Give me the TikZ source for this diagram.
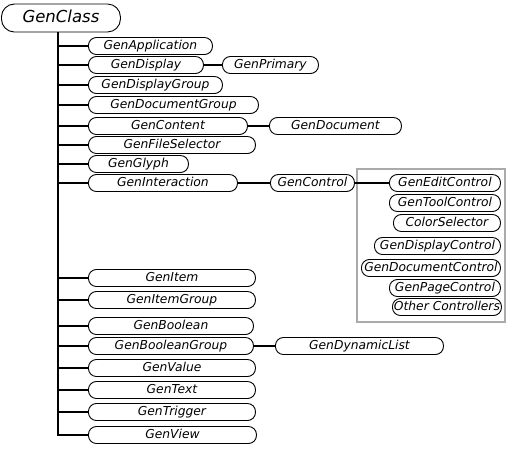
\documentclass[tikz,border=0pt]{standalone}
\usepackage{fontspec}
\setmainfont{DejaVu Sans}
\begin{document}
\begin{tikzpicture}[x=1pt,y=-1pt,
  cls/.style={draw=black,line width=0.9pt,rounded corners=8pt,fill=white,
    minimum height=17pt,inner sep=0pt,anchor=west,
    font=\fontsize{12.3}{14}\selectfont\itshape,text height=9pt,text depth=2.5pt},
  link/.style={line width=2pt,black},
  trunk/.style={line width=2.8pt,black}]
\useasboundingbox (0,0) rectangle (508,448);
\definecolor{boxgray}{HTML}{AAAAAA}
% root
\node[cls,rounded corners=13pt,minimum width=119pt,minimum height=28pt,
  font=\fontsize{16.5}{18}\selectfont\itshape,text height=12pt,text depth=3.5pt] (root) at (1,18) {GenClass};
% gray group
\draw[boxgray,line width=2.5pt] (357,169) rectangle (505,322);
% level 1
\newcommand{\cnode}[5]{\node[cls,minimum width=#4pt] (#1) at (#3,#2) {#5};}
\cnode{app}{46}{88}{124}{GenApplication}
\cnode{disp}{65}{88}{115}{GenDisplay}
\cnode{dgrp}{85}{88}{134}{GenDisplayGroup}
\cnode{docg}{105}{88}{170}{GenDocumentGroup}
\cnode{cont}{126}{88}{159}{GenContent}
\cnode{fsel}{145}{88}{167}{GenFileSelector}
\cnode{glyph}{164}{88}{100}{GenGlyph}
\cnode{inter}{183}{88}{149}{GenInteraction}
\cnode{item}{278}{88}{167}{GenItem}
\cnode{igrp}{300}{88}{167}{GenItemGroup}
\cnode{bool}{326}{88}{165}{GenBoolean}
\cnode{bgrp}{346}{88}{165}{GenBooleanGroup}
\cnode{val}{368}{88}{167}{GenValue}
\cnode{text}{390}{88}{167}{GenText}
\cnode{trig}{412}{88}{167}{GenTrigger}
\cnode{view}{435}{88}{168}{GenView}
% level 2
\cnode{prim}{65}{222}{96}{GenPrimary}
\cnode{doc}{126}{269}{132}{GenDocument}
\cnode{ctrl}{183}{270}{84}{GenControl}
\cnode{dyn}{346}{275}{168}{GenDynamicList}
% controllers
\cnode{edit}{183}{389}{111}{GenEditControl}
\cnode{tool}{203}{389}{111}{GenToolControl}
\cnode{csel}{223}{393}{107}{ColorSelector}
\cnode{dctl}{246}{374}{126}{GenDisplayControl}
\cnode{docc}{268}{361}{139}{GenDocumentControl}
\cnode{page}{288}{389}{111}{GenPageControl}
\cnode{other}{307}{392}{109}{Other Controllers}
% trunk
\coordinate (tb) at (58,435);
\draw[trunk] (root.south -| tb) -- (tb) -- ([xshift=-0.5pt]view.west);
\foreach \n in {app,disp,dgrp,docg,cont,fsel,glyph,inter,item,igrp,bool,bgrp,val,text,trig}{
  \draw[link] (\n.west -| tb) -- (\n.west);
}
\draw[link] (disp.east) -- (prim.west);
\draw[link] (cont.east) -- (doc.west);
\draw[link] (inter.east) -- (ctrl.west);
\draw[link] (ctrl.east) -- (edit.west);
\draw[link] (bgrp.east) -- (dyn.west);
\end{tikzpicture}
\end{document}
